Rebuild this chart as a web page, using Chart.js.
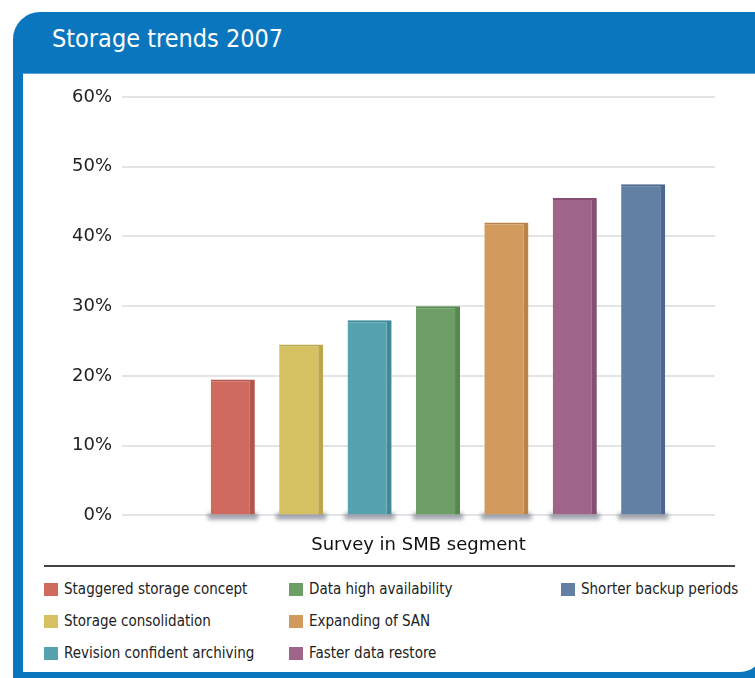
<!DOCTYPE html>
<html>
<head>
<meta charset="utf-8">
<script src="https://cdn.jsdelivr.net/npm/chart.js@4"></script>
<style>
  body { margin: 0; background: #fff; width: 755px; height: 678px; overflow: hidden; position: relative; }
  #frame { position: absolute; left: 13px; top: 12px; width: 760px; height: 666px; background: #0a76be; border-top-left-radius: 27px; }
  #title { position: absolute; left: 52px; top: 24px; color: #fff; font: 25px "DejaVu Sans Condensed", "DejaVu Sans", sans-serif; }
  #panel { position: absolute; left: 23px; top: 73px; width: 740px; height: 599px; background: #fff; border-bottom-right-radius: 23px; border-top: 1px solid #5aa3d8; box-sizing: border-box; }
  #chart { position: absolute; left: 23px; top: 74px; }
  #rule { position: absolute; left: 44px; top: 565px; width: 691px; height: 2px; background: #444; }
  #legend { position: absolute; left: 44px; top: 573px; display: grid; grid-template-rows: repeat(3, 32px); grid-template-columns: 245px 272px 180px; grid-auto-flow: column; font: 15px "DejaVu Sans Condensed", "DejaVu Sans", sans-serif; color: #222; }
  #legend div { display: flex; align-items: center; }
  #legend span.sw { display: inline-block; width: 14px; height: 13px; margin-right: 6px; }
</style>
</head>
<body>
<div id="frame"></div>
<div id="title">Storage trends 2007</div>
<div id="panel"></div>
<canvas id="chart" width="732" height="490"></canvas>
<div id="rule"></div>
<div id="legend"></div>
<script>
// Survey answers, share of respondents in %
const categories = ['Staggered storage concept', 'Storage consolidation', 'Revision confident archiving',
    'Data high availability', 'Expanding of SAN', 'Faster data restore', 'Shorter backup periods'];
const values = [19.5, 24.5, 28, 30, 42, 45.5, 47.5];
const colors = ['#cf6a5f', '#d5c062', '#56a3af', '#6d9e66', '#d39a5e', '#9e6489', '#627fa4'];
const sideColors = ['#b5544a', '#bca64a', '#3e8b98', '#558a4f', '#bb8347', '#854f71', '#4b698f'];
const yTicks = [0, 10, 20, 30, 40, 50, 60];

// soft floor shadow under each bar
const floorShadow = {
    id: 'floorShadow',
    beforeDatasetsDraw(chart) {
        const ctx = chart.ctx;
        const base = chart.scales.y.getPixelForValue(0);
        ctx.save();
        ctx.fillStyle = 'rgba(70,75,95,0.55)';
        ctx.filter = 'blur(2px)';
        chart.getDatasetMeta(0).data.forEach(bar => {
            ctx.fillRect(bar.x - bar.width / 2 - 3, base - 2, bar.width + 6, 6);
        });
        ctx.restore();
    }
};

new Chart(document.getElementById('chart'), {
    type: 'bar',
    data: {
        labels: categories,
        datasets: [{
            label: 'Survey in SMB segment',
            data: values.map((v, i) => ({ x: i, y: v })),
            backgroundColor: colors,
            borderColor: sideColors,
            borderWidth: { top: 2, right: 5, bottom: 0, left: 0 },
            borderSkipped: false,
            categoryPercentage: 1,
            barPercentage: 0.645
        }]
    },
    options: {
        responsive: false,
        animation: false,
        layout: { padding: { top: 23, right: 40, bottom: 4, left: 0 } },
        plugins: { legend: { display: false }, tooltip: { enabled: false } },
        scales: {
            x: {
                type: 'linear',
                min: -1.62,
                max: 7.05,
                offset: false,
                grid: { display: false, drawTicks: false },
                border: { display: false },
                ticks: { display: false },
                title: {
                    display: true,
                    text: 'Survey in SMB segment',
                    color: '#111',
                    font: { family: 'DejaVu Sans', size: 18 },
                    padding: { top: 19, bottom: 4 }
                }
            },
            y: {
                min: 0,
                max: 60,
                afterBuildTicks: scale => { scale.ticks = yTicks.map(v => ({ value: v })); },
                afterFit: scale => { scale.width = 99; },
                grid: { color: '#e4e4e6', lineWidth: 2, drawTicks: false },
                border: { display: false },
                ticks: {
                    padding: 10,
                    color: '#222',
                    font: { family: 'DejaVu Sans', size: 18 },
                    callback: v => v + '%'
                }
            }
        }
    },
    plugins: [floorShadow]
});

// legend, filled column by column
const legend = document.getElementById('legend');
categories.forEach((name, i) => {
    const item = document.createElement('div');
    item.innerHTML = '<span class="sw" style="background:' + colors[i] + '"></span>' + name;
    legend.appendChild(item);
});
</script>
</body>
</html>
